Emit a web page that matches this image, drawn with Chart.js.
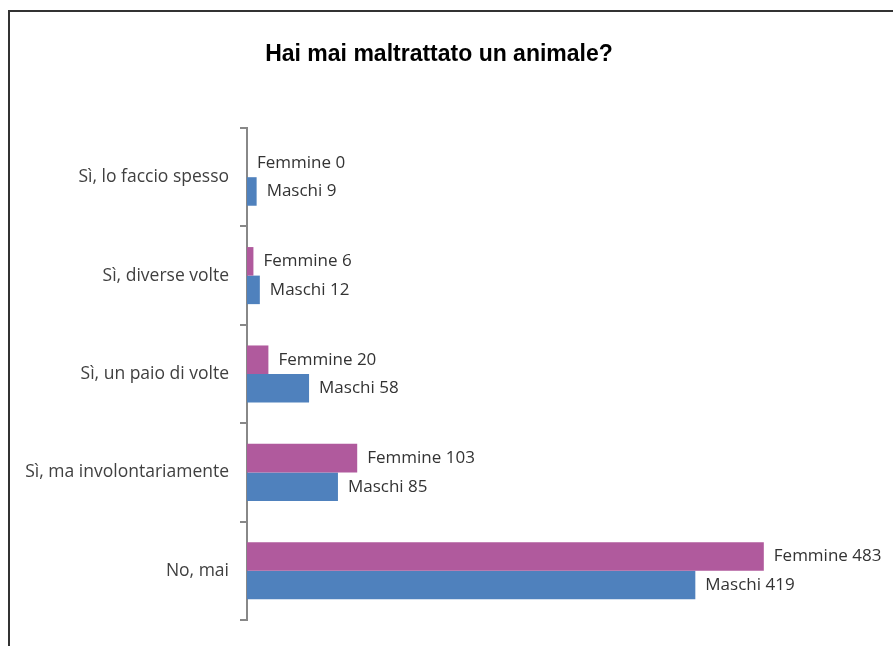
<!DOCTYPE html>
<html><head><meta charset="utf-8">
<script src="https://cdn.jsdelivr.net/npm/chart.js@4"></script>
<style>html,body{margin:0;padding:0;background:#fff;}#wrap{width:893px;height:646px;position:relative;}</style>
</head><body><div id="wrap"><canvas id="c" width="893" height="646"></canvas></div>
<script>
const categories = ["Sì, lo faccio spesso", "Sì, diverse volte", "Sì, un paio di volte", "Sì, ma involontariamente", "No, mai"];
const femmine = [0, 6, 20, 103, 483];
const maschi = [9, 12, 58, 85, 419];
const seriesNames = ["Femmine", "Maschi"];
const title = "Hai mai maltrattato un animale?";

const framePlugin = {
  id: 'frame',
  beforeDraw(chart) {
    const ctx = chart.ctx;
    ctx.save();
    ctx.strokeStyle = '#333';
    ctx.lineWidth = 2;
    ctx.beginPath();
    ctx.moveTo(9, 646);
    ctx.lineTo(9, 11);
    ctx.lineTo(893, 11);
    ctx.stroke();
    ctx.font = 'bold 23px "Liberation Sans", Arial, sans-serif';
    ctx.fillStyle = '#000';
    ctx.textAlign = 'center';
    ctx.textBaseline = 'middle';
    ctx.fillText(title, 439, 55);
    ctx.restore();
  }
};
const labelPlugin = {
  id: 'barLabels',
  afterDatasetsDraw(chart) {
    const ctx = chart.ctx;
    ctx.save();
    ctx.font = '17px "Open Sans", sans-serif';
    ctx.fillStyle = '#333';
    ctx.textBaseline = 'middle';
    ctx.textAlign = 'left';
    chart.data.datasets.forEach((ds, di) => {
      chart.getDatasetMeta(di).data.forEach((bar, i) => {
        ctx.fillText(ds.label + ' ' + ds.data[i], bar.x + 10, bar.y);
      });
    });
    ctx.restore();
  }
};

new Chart(document.getElementById('c'), {
  type: 'bar',
  data: {
    labels: categories,
    datasets: [
      { label: seriesNames[0], data: femmine, backgroundColor: '#B05A9D', categoryPercentage: 0.58, barPercentage: 1 },
      { label: seriesNames[1], data: maschi, backgroundColor: '#4F81BD', categoryPercentage: 0.58, barPercentage: 1 }
    ]
  },
  options: {
    indexAxis: 'y',
    responsive: false,
    animation: false,
    layout: { padding: { top: 128, left: 0, right: 4, bottom: 26 } },
    plugins: {
      legend: { display: false },
      tooltip: { enabled: false },
      title: { display: false }
    },
    scales: {
      x: { display: false, min: 0, max: 600 },
      y: {
        afterFit(scale) { scale.width = 247; },
        grid: { drawOnChartArea: false, color: '#888', lineWidth: 2, tickLength: 7 },
        border: { color: '#888', width: 2 },
        ticks: { color: '#404040', padding: 11, font: { family: '"Open Sans", sans-serif', size: 17.5 } }
      }
    }
  },
  plugins: [framePlugin, labelPlugin]
});
</script></body></html>
